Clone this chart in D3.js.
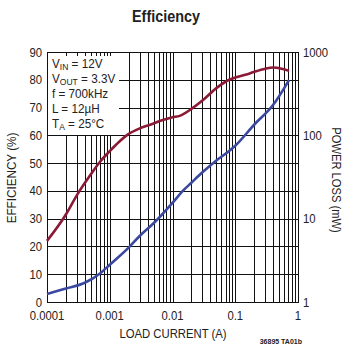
<!DOCTYPE html>
<html><head><meta charset="utf-8">
<script src="https://cdn.jsdelivr.net/npm/d3@7"></script>
<style>
body{margin:0;background:#fff;}
text{font-family:"Liberation Sans Narrow","Liberation Sans",Arial,sans-serif;fill:#222;}
</style></head>
<body><svg id="c" width="346" height="345"></svg>
<script>
const xTicks = [0.0001, 0.001, 0.01, 0.1, 1];
const xTickLabels = ["0.0001", "0.001", "0.01", "0.1", "1"];
const effTicks = [0,10,20,30,40,50,60,70,80,90];
const lossTicks = [1,10,100,1000];
const lossTickLabels = ["1","10","100","1000"];

const effCurrent = [0.0001,0.0002,0.0003,0.0005,0.0007,0.001,0.0014,0.002,0.003,0.0044,0.007,0.01,0.013,0.02,0.03,0.05,0.08,0.1,0.17,0.3,0.4,0.55,0.72];
const effValues  = [22,31.5,38.5,46,50.5,54.3,57.6,60.5,62.5,63.8,65.5,66.5,67,69.5,72.5,77,80,80.8,82.3,84,84.4,84,83.2];

const lossCurrent = [0.0001,0.0002,0.0004,0.0007,0.001,0.002,0.003,0.005,0.01,0.015,0.02,0.03,0.05,0.08,0.1,0.2,0.4,0.72];
const lossValues  = [1.25,1.45,1.7,2.2,2.8,4.5,6.2,8.8,15.5,22,27,36,50,65,75,134,231,461];

const svg = d3.select("#c");
const L=47, R=298, T=52, B=302;
const x = d3.scaleLog().domain([0.0001,1]).range([L,R]);
const yE = d3.scaleLinear().domain([0,90]).range([B,T]);
const yP = d3.scaleLog().domain([1,1000]).range([B,T]);
const SX = 0.87;

// grid
const minor = [];
for (let e=-4;e<0;e++) for (let m=1;m<10;m++) minor.push(m*Math.pow(10,e));
minor.push(1);
svg.append("g").selectAll("line").data(minor).join("line")
  .attr("x1",d=>Math.round(x(d))+0.5).attr("x2",d=>Math.round(x(d))+0.5)
  .attr("y1",T).attr("y2",B).attr("stroke","#111").attr("stroke-width",1);
svg.append("g").selectAll("line").data(effTicks).join("line")
  .attr("x1",L).attr("x2",R)
  .attr("y1",d=>Math.round(yE(d))+0.5).attr("y2",d=>Math.round(yE(d))+0.5)
  .attr("stroke","#111").attr("stroke-width",1);

// legend background
svg.append("rect").attr("x",L+1).attr("y",T+4).attr("width",71).attr("height",79).attr("fill","#fff");

// frame
svg.append("rect").attr("x",L+0.5).attr("y",T+0.5).attr("width",R-L).attr("height",B-T)
  .attr("fill","none").attr("stroke","#111");

// curves
const lineE = d3.line().x((d,i)=>x(effCurrent[i])).y(d=>yE(d)).curve(d3.curveMonotoneX);
const lineP = d3.line().x((d,i)=>x(lossCurrent[i])).y(d=>yP(d)).curve(d3.curveMonotoneX);
svg.append("path").attr("d",lineE(effValues)).attr("fill","none").attr("stroke","#8a1a35").attr("stroke-width",2.6);
svg.append("path").attr("d",lineP(lossValues)).attr("fill","none").attr("stroke","#3a48a0").attr("stroke-width",2.6);

// text helper (horizontally condensed)
function label(tx, ty, str, opts={}) {
  const g = svg.append("g").attr("transform",`translate(${tx},${ty}) ${opts.rot?`rotate(${opts.rot})`:""} scale(${opts.sx||SX},1)`);
  return g.append("text").attr("x",0).attr("y",0)
    .attr("text-anchor",opts.anchor||"start")
    .attr("font-size",opts.fs||13)
    .attr("font-weight",opts.bold?"bold":"normal")
    .text(str);
}

effTicks.forEach(d=>label(42, yE(d)+4.5, String(d), {anchor:"end"}));
lossTicks.forEach((d,i)=>label(303, yP(d)+4.5, lossTickLabels[i]));
xTicks.forEach((d,i)=>label(x(d), 320, xTickLabels[i], {anchor:"middle"}));

label(173, 338, "LOAD CURRENT (A)", {anchor:"middle"});
label(16, 178, "EFFICIENCY (%)", {anchor:"middle", rot:-90, sx:0.9});
label(332, 180, "POWER LOSS (mW)", {anchor:"middle", rot:90, sx:0.86});
label(166, 22, "Efficiency", {anchor:"middle", fs:16, bold:true, sx:0.9});
label(302, 344, "36895 TA01b", {anchor:"end", fs:7, bold:true, sx:1});

// legend text
const leg = [["V","IN"," = 12V"],["V","OUT"," = 3.3V"],["f = 700kHz","",""],["L = 12µH","",""],["T","A"," = 25°C"]];
leg.forEach((r,i)=>{
  const t = label(52, 68+i*15, "", {sx:0.9});
  t.append("tspan").text(r[0]);
  if (r[1]) {
    t.append("tspan").attr("font-size",9.5).attr("dy",2).text(r[1]);
    t.append("tspan").attr("dy",-2).text(r[2]);
  }
});
</script></body></html>
